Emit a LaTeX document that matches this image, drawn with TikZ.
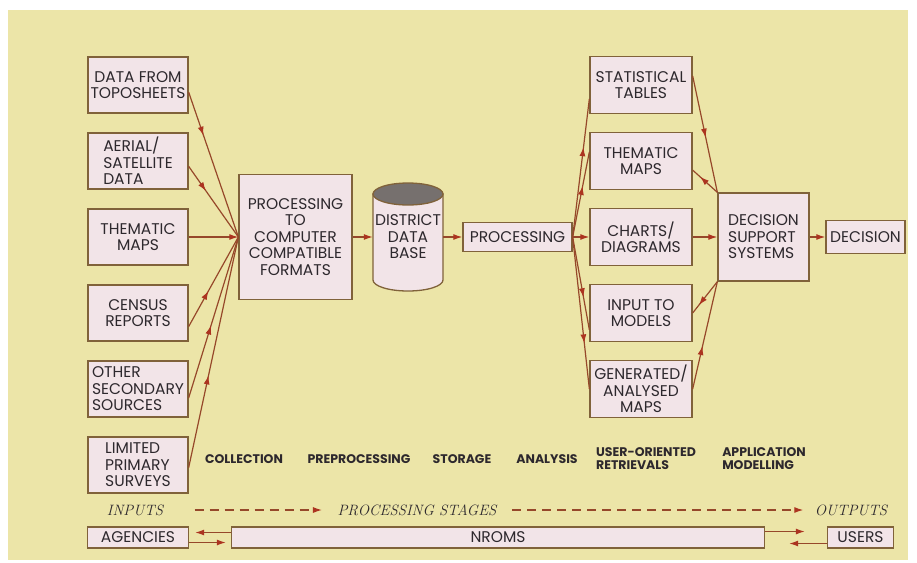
\documentclass[tikz,border=0pt]{standalone}
\usepackage{fontspec}
\newfontfamily\boxfont{Poppins}
\usetikzlibrary{positioning, arrows.meta, decorations.markings}

\definecolor{paper}{RGB}{236,229,168}
\definecolor{boxfill}{RGB}{242,228,232}
\definecolor{boxline}{RGB}{128,98,58}
\definecolor{flow}{RGB}{150,72,42}
\definecolor{tip}{RGB}{172,52,32}
\definecolor{ink}{RGB}{45,40,45}
\definecolor{dbtop}{RGB}{118,112,110}

\tikzset{
  box/.style={draw=boxline, line width=1.3pt, fill=boxfill, text=ink,
    font=\boxfont\fontsize{15.5}{16.5}\selectfont, align=center, inner sep=1pt,
    minimum width=100pt, minimum height=56pt},
  rbox/.style={box, minimum width=102pt, minimum height=57pt},
  bar/.style={box, minimum height=21pt},
  flowline/.style={draw=flow, line width=1.2pt},
  midarrow/.style={flowline, postaction={decorate},
    decoration={markings, mark=at position #1 with {\arrow{Latex[length=9pt,width=6pt,color=tip]}}}},
  midarrow/.default=0.5,
  endarrow/.style={flowline, -{Latex[length=9pt,width=6pt,color=tip]}},
  phasearrow/.style={endarrow, dash pattern=on 9pt off 6pt},
  stage/.style={font=\boxfont\bfseries\fontsize{12.5}{13}\selectfont, text=ink, align=left},
  phase/.style={font=\itshape\fontsize{15}{16}\selectfont, text=ink},
}

\begin{document}
\begin{tikzpicture}[x=1pt, y=1pt, on grid, node distance=76pt]
    \useasboundingbox (0,0) rectangle (917,-562);
    \fill[white] (0,0) rectangle (917,-562);
    \fill[paper] (8,-10) rectangle (908,-560);

    % data sources
    \node[box] (them1) at (138,-237) {THEMATIC\\MAPS};
    \node[box, align=left] (aerial) [above=of them1] {AERIAL/\\SATELLITE\\DATA};
    \node[box] (topo) [above=of aerial] {DATA FROM\\TOPOSHEETS};
    \node[box] (census) [below=of them1] {CENSUS\\REPORTS};
    \node[box, align=left] (other) [below=of census] {OTHER\\SECONDARY\\SOURCES};
    \node[box, align=left] (limited) [below=of other] {LIMITED\\PRIMARY\\SURVEYS};

    % preprocessing and storage
    \node[box, minimum width=113pt, minimum height=125pt] (prep) [right=157.5pt of them1]
        {PROCESSING\\TO\\COMPUTER\\COMPATIBLE\\FORMATS};
    \coordinate[right=112.5pt of prep] (dbc);
    \draw[boxline, line width=1.3pt, fill=boxfill]
        ([shift={(-35pt,43pt)}]dbc) -- ([shift={(-35pt,-43pt)}]dbc)
        arc[start angle=180, end angle=360, x radius=35pt, y radius=11pt]
        -- ([shift={(35pt,43pt)}]dbc) -- cycle;
    \draw[boxline, line width=1.3pt, fill=dbtop] ([yshift=43pt]dbc) ellipse[x radius=35pt, y radius=11pt];
    \node[text=ink, font=\boxfont\fontsize{15.5}{16.5}\selectfont, align=center, inner sep=0pt,
        minimum width=70pt, minimum height=86pt] (db) at (dbc) {DISTRICT\\DATA\\BASE};

    % analysis and retrievals
    \node[box, minimum width=109pt, minimum height=29pt] (proc) [right=109.5pt of db] {PROCESSING};
    \node[rbox] (charts) [right=123.5pt of proc] {CHARTS/\\DIAGRAMS};
    \node[rbox] (them2) [above=of charts] {THEMATIC\\MAPS};
    \node[rbox] (stat) [above=of them2] {STATISTICAL\\TABLES};
    \node[rbox] (inmod) [below=of charts] {INPUT TO\\MODELS};
    \node[rbox] (gen) [below=of inmod] {GENERATED/\\ANALYSED\\MAPS};

    % application
    \node[box, minimum width=91pt, minimum height=88pt, align=left] (dss) [right=122.5pt of charts]
        {DECISION\\SUPPORT\\SYSTEMS};
    \node[box, minimum width=79pt, minimum height=33pt] (dec) [right=102pt of dss] {DECISION};

    % stage names
    \node[stage] (collect) at (244,-459) {COLLECTION};
    \node[stage] (preproc) at (359,-459) {PREPROCESSING};
    \node[stage] (storage) at (462,-459) {STORAGE};
    \node[stage] (analysis) at (547,-459) {ANALYSIS};
    \node[stage] (retrieve) at (646,-459) {USER-ORIENTED\\RETRIEVALS};
    \node[stage] (applic) at (764,-459) {APPLICATION\\MODELLING};

    \node[phase] (inputs) at (135,-510) {INPUTS};
    \node[phase] (stages) at (417,-510) {PROCESSING STAGES};
    \node[phase] (outputs) at (851,-510) {OUTPUTS};

    % organisation
    \node[bar, minimum width=101pt] (agency) [below=72.5pt of limited] {AGENCIES};
    \node[bar, minimum width=533pt] (nroms) [right=360pt of agency] {NROMS};
    \node[bar, minimum width=66pt] (users) [right=362.5pt of nroms] {USERS};

    % connectors
    \draw[midarrow=0.3] (topo.-8) -- (prep.west);
    \draw[midarrow=0.35] (aerial.-6) -- (prep.west);
    \draw[endarrow] (them1.east) -- (prep.west);
    \draw[midarrow=0.4] (census.-15) -- (prep.west);
    \draw[midarrow=0.45] (other.-10) -- (prep.west);
    \draw[midarrow=0.4] (limited.-3) -- (prep.west);

    \draw[endarrow] (prep.east) -- (db.west);
    \draw[endarrow] (db.east) -- (proc.west);

    \draw[midarrow=0.65] (proc.east) -- (stat.-165);
    \draw[midarrow=0.6] (proc.east) -- (them2.170);
    \draw[endarrow] (proc.east) -- (charts.west);
    \draw[midarrow=0.65] (proc.east) -- (inmod.-162);
    \draw[midarrow=0.7] (proc.east) -- (gen.west);

    \draw[midarrow=0.53] (stat.10) -- (dss.north west);
    \draw[midarrow=0.7] (dss.north west) -- (them2.-10);
    \draw[endarrow] (charts.east) -- (dss.west);
    \draw[midarrow=0.75] (dss.south west) -- (inmod.east);
    \draw[midarrow=0.4] (gen.east) -- (dss.south west);
    \draw[endarrow] (dss.east) -- (dec.west);

    \draw[phasearrow, shorten >=12pt] ([xshift=28pt]inputs.east) -- (stages.west);
    \draw[phasearrow, shorten >=8pt] ([xshift=12pt]stages.east) -- (outputs.west);

    \draw[endarrow, shorten >=6pt] ([yshift=5pt]nroms.west) -- ([yshift=5pt]agency.east);
    \draw[endarrow, shorten >=5pt] ([yshift=-5pt]agency.east) -- ([yshift=-5pt]nroms.west);
    \draw[endarrow, shorten >=22pt] ([yshift=6pt]nroms.east) -- ([yshift=6pt]users.west);
    \draw[endarrow, shorten >=24pt] ([yshift=-6pt]users.west) -- ([yshift=-6pt]nroms.east);

\end{tikzpicture}
\end{document}
